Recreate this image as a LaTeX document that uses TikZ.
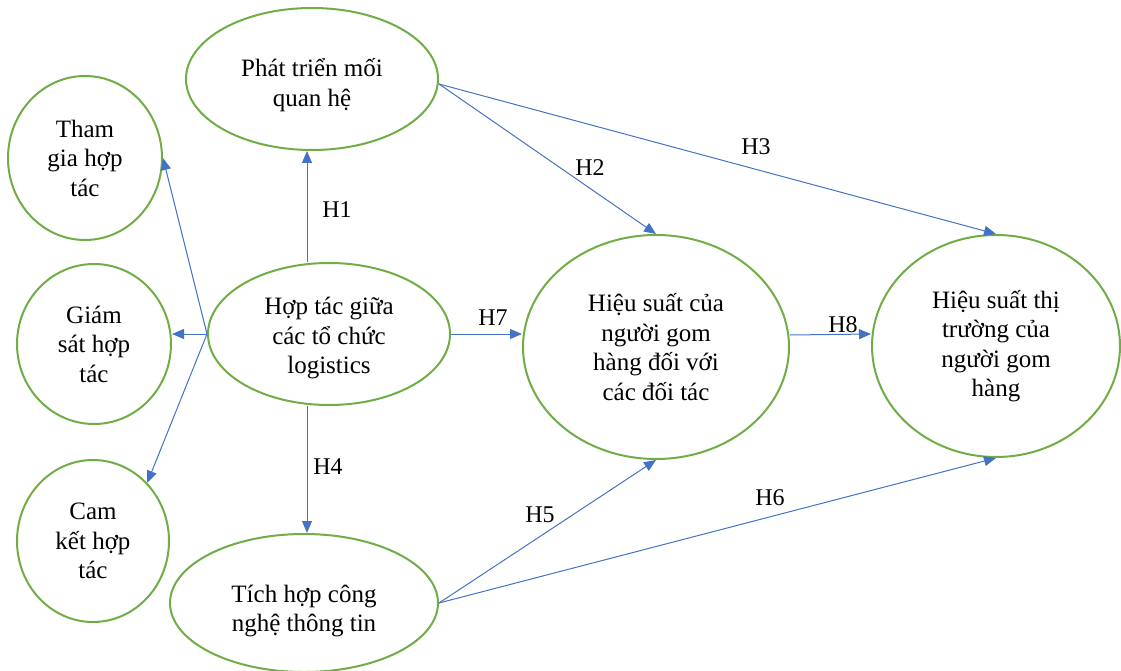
\documentclass[tikz,border=0pt]{standalone}
\usepackage{fontspec}
\setmainfont{Liberation Serif}
\usetikzlibrary{shapes.geometric,arrows.meta}
\definecolor{elgreen}{HTML}{70AD47}
\definecolor{arblue}{HTML}{4472C4}
\begin{document}
\begin{tikzpicture}[x=1pt,y=-1pt,
  el/.style={ellipse,draw=elgreen,line width=2pt,inner sep=0pt,align=center,
    font=\fontsize{25}{29.5}\selectfont},
  arr/.style={draw=arblue,line width=1pt,-{Triangle[length=12pt,width=10pt]}},
  lab/.style={font=\fontsize{24}{29.5}\selectfont,inner sep=0pt}]
\useasboundingbox (0,0) rectangle (1121,671);
\node[el,text height=60pt,minimum width=252pt,minimum height=142pt] (phat) at (312,79) {Phát triển mối\\quan hệ};
\node[el,minimum width=154pt,minimum height=164pt] (tham) at (85,158) {Tham\\gia hợp\\tác};
\node[el,minimum width=154pt,minimum height=160pt] (giam) at (94,344) {Giám\\sát hợp\\tác};
\node[el,minimum width=152pt,minimum height=162pt] (cam) at (93,541) {Cam\\kết hợp\\tác};
\node[el,text height=85pt,minimum width=242pt,minimum height=142pt] (hop) at (329,334) {Hợp tác giữa\\các tổ chức\\logistics};
\node[el,minimum width=266pt,minimum height=224pt] (hs1) at (656,347) {Hiệu suất của\\người gom\\hàng đối với\\các đối tác};
\node[el,minimum width=248pt,minimum height=222pt] (hs2) at (996,346) {Hiệu suất thị\\trường của\\người gom\\hàng};
\node[el,text height=63pt,minimum width=268pt,minimum height=138pt] (tich) at (304,603) {Tích hợp công\\nghệ thông tin};

\draw[arr] (hop.west) -- (tham.east);
\draw[arr] (hop.west) -- (hop.west -| giam.east);
\draw[arr] (hop.west) -- (cam.47);
\draw[arr] ([xshift=-22pt]hop.north) -- ([xshift=-5pt]phat.south);
\draw[arr] ([yshift=-5pt]phat.east) -- (hs1.north);
\draw[arr] ([yshift=-5pt]phat.east) -- (hs2.north);
\draw[arr] (hop.east) -- (hop.east -| hs1.west);
\draw[arr] ([yshift=12pt]hs1.east) -- ([yshift=12pt]hs2.west);
\draw[arr] ([xshift=-22pt]hop.south) -- ([xshift=3pt]tich.north);
\draw[arr] (tich.east) -- (hs1.south);
\draw[arr] (tich.east) -- (hs2.south);

\node[lab] (h1) at (337,210) {H1};
\node[lab] (h2) at (590,168) {H2};
\node[lab] (h3) at (756,147) {H3};
\node[lab] (h4) at (328,467) {H4};
\node[lab] (h5) at (540,515) {H5};
\node[lab] (h6) at (770,498) {H6};
\node[lab] (h7) at (493,318) {H7};
\node[lab] (h8) at (843,325) {H8};
\end{tikzpicture}
\end{document}
